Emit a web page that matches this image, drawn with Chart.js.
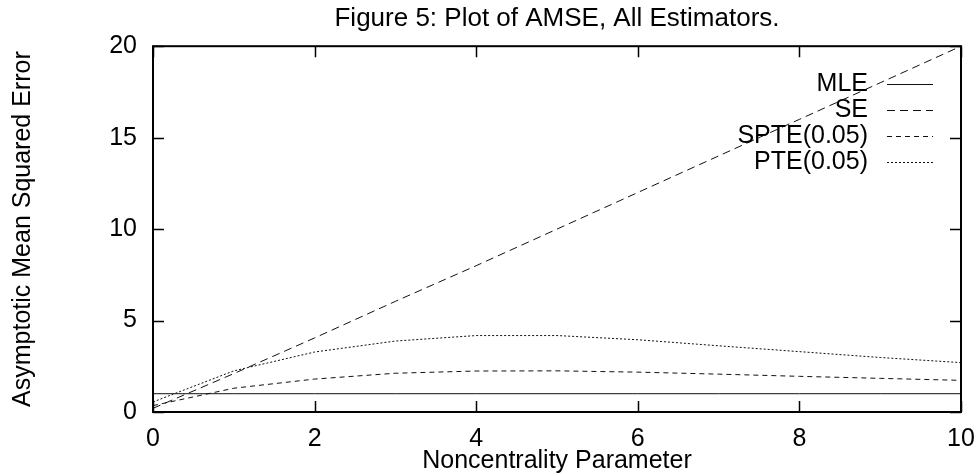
<!DOCTYPE html>
<html>
<head>
<meta charset="utf-8">
<script src="https://cdn.jsdelivr.net/npm/chart.js@4.4.0/dist/chart.umd.min.js"></script>
<style>
  html, body { margin: 0; padding: 0; background: #fff; }
  #wrap { width: 978px; height: 476px; position: relative; }
</style>
</head>
<body>
<div id="wrap"><canvas id="amse"></canvas></div>
<script>
// noncentrality parameter (x) and AMSE of each estimator
const lambda = [0, 1, 2, 3, 4, 5, 6, 7, 8, 9, 10];
const mle  = [1, 1, 1, 1, 1, 1, 1, 1, 1, 1, 1];
const se   = [0.2, 2.1, 4.05, 6.05, 8.0, 10.0, 12.0, 14.0, 16.0, 18.0, 20.0];
const spte = [0.35, 1.3, 1.8, 2.12, 2.24, 2.25, 2.18, 2.07, 1.95, 1.84, 1.73];
const pte  = [0.55, 2.25, 3.28, 3.88, 4.18, 4.18, 3.95, 3.62, 3.3, 2.98, 2.7];

const seriesNames = ['MLE', 'SE', 'SPTE(0.05)', 'PTE(0.05)'];
const xTicks = [0, 2, 4, 6, 8, 10];
const yTicks = [0, 5, 10, 15, 20];

const FONT = "'Liberation Sans', Arial, Helvetica, sans-serif";
const ink = '#000';

function points(ys) {
  return lambda.map((x, i) => ({ x: x, y: ys[i] }));
}

// box round the plot plus gnuplot-style inward ticks on all four sides
const frame = {
  id: 'frame',
  afterDraw(chart) {
    const { ctx, chartArea: a, scales } = chart;
    const len = 11;
    ctx.save();
    ctx.strokeStyle = ink;
    ctx.lineWidth = 1.5;
    ctx.beginPath();
    xTicks.forEach(v => {
      const px = Math.round(scales.x.getPixelForValue(v)) + 0.5;
      ctx.moveTo(px, a.bottom); ctx.lineTo(px, a.bottom - len);
      ctx.moveTo(px, a.top); ctx.lineTo(px, a.top + len);
    });
    yTicks.forEach(v => {
      const py = Math.round(scales.y.getPixelForValue(v)) + 0.5;
      ctx.moveTo(a.left, py); ctx.lineTo(a.left + len, py);
      ctx.moveTo(a.right, py); ctx.lineTo(a.right - len, py);
    });
    ctx.stroke();
    ctx.lineWidth = 2;
    ctx.strokeRect(a.left, a.top, a.right - a.left, a.bottom - a.top);
    ctx.restore();
  }
};

// key in the top right: label right-aligned, line sample after it
const key = {
  id: 'key',
  afterDraw(chart) {
    const ctx = chart.ctx;
    ctx.save();
    ctx.font = '25px ' + FONT;
    ctx.fillStyle = ink;
    ctx.textAlign = 'right';
    ctx.textBaseline = 'middle';
    chart.data.datasets.forEach((ds, i) => {
      const y = 84 + 26 * i;
      ctx.fillText(ds.label, 868, y);
      ctx.setLineDash(ds.borderDash || []);
      ctx.strokeStyle = ds.borderColor;
      ctx.lineWidth = ds.borderWidth;
      ctx.beginPath();
      ctx.moveTo(887, y + 0.5);
      ctx.lineTo(933, y + 0.5);
      ctx.stroke();
    });
    ctx.restore();
  }
};

const dashes = [[], [8, 5], [5, 4], [2, 2]];
const values = [mle, se, spte, pte];

new Chart(document.getElementById('amse'), {
  type: 'line',
  data: {
    datasets: values.map((ys, i) => ({
      label: seriesNames[i],
      data: points(ys),
      borderColor: '#111',
      borderWidth: 1,
      borderDash: dashes[i],
      borderCapStyle: 'butt',
      pointRadius: 0,
      tension: 0,
      fill: false
    }))
  },
  options: {
    responsive: true,
    maintainAspectRatio: false,
    animation: false,
    devicePixelRatio: 1,
    layout: { padding: { top: 0, right: 17, bottom: 0, left: 0 } },
    plugins: {
      legend: { display: false },
      tooltip: { enabled: false },
      title: {
        display: true,
        text: 'Figure 5: Plot of AMSE, All Estimators.',
        fullSize: false,
        color: ink,
        font: { family: FONT, size: 26, weight: 'normal' },
        padding: { top: 3, bottom: 12 }
      }
    },
    scales: {
      x: {
        type: 'linear',
        min: 0,
        max: 10,
        afterBuildTicks: s => { s.ticks = xTicks.map(v => ({ value: v })); },
        afterFit: s => { s.height = 64; s.paddingLeft = 0; s.paddingRight = 0; },
        grid: { display: false, drawTicks: false },
        border: { display: false },
        ticks: { color: ink, padding: 12, font: { family: FONT, size: 25 }, maxRotation: 0 },
        title: {
          display: true,
          text: 'Noncentrality Parameter',
          color: ink,
          font: { family: FONT, size: 25 },
          padding: { top: 0, bottom: 0 }
        }
      },
      y: {
        min: 0,
        max: 20,
        afterBuildTicks: s => { s.ticks = yTicks.map(v => ({ value: v })); },
        afterFit: s => { s.width = 153; s.paddingTop = 0; s.paddingBottom = 0; },
        grid: { display: false, drawTicks: false },
        border: { display: false },
        ticks: { color: ink, padding: 16, font: { family: FONT, size: 25 } },
        title: {
          display: true,
          text: 'Asymptotic Mean Squared Error',
          color: ink,
          font: { family: FONT, size: 25 },
          padding: { top: 8, bottom: 0 }
        }
      }
    }
  },
  plugins: [frame, key]
});
</script>
</body>
</html>
